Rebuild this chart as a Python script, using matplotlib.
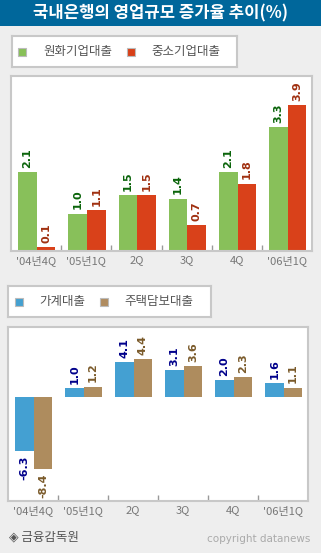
"""Korean bank lending growth chart (two stacked bar panels)."""

import matplotlib

matplotlib.use("Agg")
from matplotlib import pyplot as plt
from matplotlib.patches import Rectangle
import numpy as np

plt.rcParams["font.family"] = ["Noto Sans CJK KR", "DejaVu Sans"]

W, H = 321, 553

title = "국내은행의 영업규모 증가율 추이(%)"
categories = ["'04년4Q", "'05년1Q", "2Q", "3Q", "4Q", "'06년1Q"]

top_names = ["원화기업대출", "중소기업대출"]
won_loans = [2.1, 1.0, 1.5, 1.4, 2.1, 3.3]
sme_loans = [0.1, 1.1, 1.5, 0.7, 1.8, 3.9]

bottom_names = ["가계대출", "주택담보대출"]
household_loans = [-6.3, 1.0, 4.1, 3.1, 2.0, 1.6]
mortgage_loans = [-8.4, 1.2, 4.4, 3.6, 2.3, 1.1]

BG = "#eeeeee"
BORDER = "#c8c8c8"


def px_axes(fig, x0, y0, x1, y1):
    # pixel box (top-left origin) -> figure axes
    return fig.add_axes([x0 / W, 1 - y1 / H, (x1 - x0) / W, (y1 - y0) / H])


def legend_box(fig, box, names, colors, marker_x, text_x):
    x0, y0, x1, y1 = box
    ax = px_axes(fig, x0, y0, x1, y1)
    ax.set_xlim(x0, x1)
    ax.set_ylim(y1, y0)
    ax.set_xticks([])
    ax.set_yticks([])
    ax.set_facecolor("white")
    for sp in ax.spines.values():
        sp.set_color(BORDER)
        sp.set_linewidth(1.5)
    yc = (y0 + y1) / 2
    for name, color, mx, tx in zip(names, colors, marker_x, text_x):
        ax.add_patch(Rectangle((mx, yc - 4), 8, 8, facecolor=color,
                               edgecolor="#bbbbbb", linewidth=0.8))
        ax.text(tx, yc, name, fontsize=9, color="#555555",
                ha="left", va="center")
    return ax


def bar_panel(fig, box, a, b, colors, label_colors, ylim):
    x0, y0, x1, y1 = box
    ax = px_axes(fig, x0, y0, x1, y1)
    x = np.arange(len(categories))
    width = 0.37
    for vals, off, color, lc in zip((a, b), (-0.17, 0.2), colors, label_colors):
        ax.bar(x + off, vals, width, color=color, zorder=2)
        for xi, v in zip(x, vals):
            pos = v >= 0
            ax.annotate(f"{v:.1f}", (xi + off, v),
                        xytext=(0, 3 if pos else -3),
                        textcoords="offset points", rotation=90,
                        ha="center", va="bottom" if pos else "top",
                        fontsize=8, fontweight="bold", color=lc,
                        family="DejaVu Sans")
    ax.set_xlim(-0.5, len(categories) - 0.5)
    ax.set_ylim(*ylim)
    ax.set_facecolor("white")
    for sp in ax.spines.values():
        sp.set_color(BORDER)
        sp.set_linewidth(1.5)
    ax.set_yticks([])
    ax.set_xticks(x)
    ax.set_xticklabels(categories, fontsize=8, color="#777777")
    ax.tick_params(axis="x", length=0, pad=3)
    ax.set_xticks(x[:-1] + 0.5, minor=True)
    ax.tick_params(axis="x", which="minor", direction="in", length=4,
                   color="#999999", width=1)
    return ax


fig = plt.figure(figsize=(W / 100, H / 100), dpi=100, facecolor=BG)

# title bar
tax = px_axes(fig, 0, 0, W, 26)
tax.set_facecolor("#00679b")
tax.set_xticks([])
tax.set_yticks([])
for sp in tax.spines.values():
    sp.set_visible(False)
tax.text(0.5, 0.5, title, transform=tax.transAxes, ha="center", va="center",
         fontsize=12, fontweight="bold", color="white")

legend_box(fig, (12, 36, 237, 67), top_names, ["#88c058", "#d84018"],
           [18, 127], [43, 151])
bar_panel(fig, (11, 76, 312, 251), won_loans, sme_loans,
          ["#88c05a", "#d9411a"], ["#0a640a", "#a03010"], (0, 4.67))

legend_box(fig, (8, 286, 211, 317), bottom_names, ["#44a0d0", "#b08c60"],
           [15, 100], [39, 124])
bar_panel(fig, (8, 327, 308, 501), household_loans, mortgage_loans,
          ["#44a0d2", "#ae8c5e"], ["#00008b", "#7a5a2a"], (-12.1, 8.14))

fig.text(9 / W, 1 - 537 / H, "◈ 금융감독원", fontsize=9, color="#555555",
         ha="left", va="center")
fig.text(310 / W, 1 - 539 / H, "copyright datanews", fontsize=7.5,
         color="#aaaaaa", ha="right", va="center", family="DejaVu Sans")

fig.savefig("out.png", dpi=100, facecolor=BG)
